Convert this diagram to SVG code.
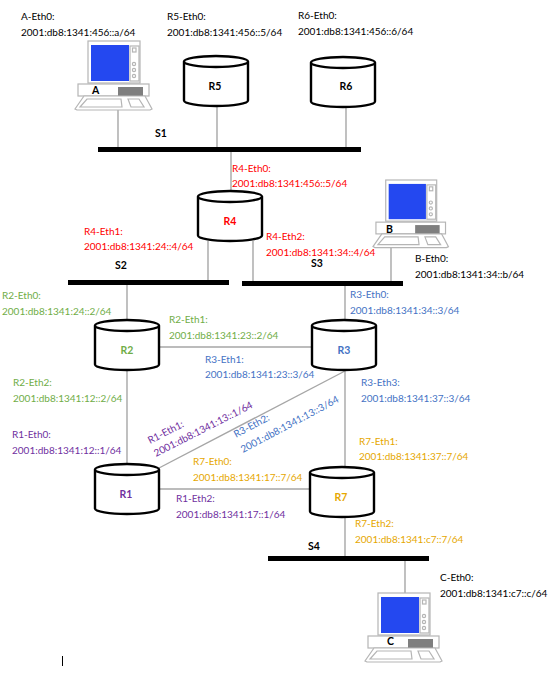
<svg xmlns="http://www.w3.org/2000/svg" xmlns:xlink="http://www.w3.org/1999/xlink" width="556" height="674" viewBox="0 0 556 674">
<style>
text{font-family:Lato,"Open Sans","Liberation Sans",sans-serif;font-size:10px}
.b{font-weight:700;font-size:10.5px}
.red{fill:#ff0000}.grn{fill:#70ad47}.blu{fill:#4472c4}.pur{fill:#7030a0}.yel{fill:#e6a700}.blk{fill:#000}
.c line{stroke:#a6a6a6;stroke-width:1.4}
.bus{fill:#000}
.cylb{fill:#fff;stroke:#000;stroke-width:2.4}
.pc{fill:#fff;stroke:#b5b5b5;stroke-width:1.2}
</style>
<defs>
<g id="cyl">
<path class="cylb" d="M0 5.5V44.5A32 5.5 0 0 0 64 44.5V5.5"/>
<ellipse class="cylb" cx="32" cy="5.5" rx="32" ry="5.5"/>
</g>
<g id="pc">
<rect class="pc" x="13" y="0" width="52" height="42"/>
<rect x="16" y="4" width="38" height="36" fill="#2448f0"/>
<rect class="pc" x="55" y="5" width="9" height="35" stroke-width=".7"/>
<rect class="pc" x="57.5" y="7" width="3.5" height="4" stroke-width=".7"/>
<circle class="pc" cx="59" cy="23" r="1.6" stroke-width=".7"/>
<circle class="pc" cx="59" cy="29" r="1.6" stroke-width=".7"/>
<circle class="pc" cx="59" cy="35" r="1.6" stroke-width=".7"/>
<rect class="pc" x="3" y="43" width="71" height="12"/>
<rect x="43" y="46" width="25" height="9" fill="#7f7f7f"/>
<path class="pc" d="M9 55H70L77 68L75 69H2L0 68Z"/>
<path class="pc" d="M12 58H46L47 66H5Z" stroke-width=".9"/>
<path class="pc" d="M53 58H64L69 66H56Z" stroke-width=".9"/>
</g>
</defs>
<g id="connectors" class="c">
<line x1="118" y1="110" x2="118" y2="148"/>
<line x1="217" y1="105" x2="217" y2="148"/>
<line x1="346" y1="106" x2="346" y2="148"/>
<line x1="231" y1="151" x2="231" y2="192"/>
<line x1="208" y1="241" x2="208" y2="281"/>
<line x1="253" y1="241" x2="253" y2="282"/>
<line x1="391" y1="247" x2="391" y2="282"/>
<line x1="127" y1="285" x2="127" y2="321"/>
<line x1="345" y1="286" x2="345" y2="321"/>
<line x1="160" y1="347" x2="312" y2="347"/>
<line x1="127" y1="370" x2="127" y2="464"/>
<line x1="345" y1="370" x2="345" y2="467"/>
<line x1="159" y1="468" x2="345" y2="371"/>
<line x1="159" y1="489" x2="310" y2="489"/>
<line x1="345" y1="517" x2="345" y2="557"/>
<line x1="405" y1="561" x2="405" y2="593"/>
</g>
<g id="S1"><rect class="bus" x="98" y="147" width="263" height="5"/><text class="b blk" x="155" y="137">S1</text></g>
<g id="S2"><rect class="bus" x="68" y="280" width="161" height="5"/><text class="b blk" x="115" y="269">S2</text></g>
<g id="S3"><rect class="bus" x="242" y="281" width="161" height="5"/><text class="b blk" x="311" y="267">S3</text></g>
<g id="S4"><rect class="bus" x="268" y="556" width="161" height="5"/><text class="b blk" x="308" y="550">S4</text></g>
<g id="A"><use xlink:href="#pc" href="#pc" x="75" y="41"/><text class="b blk" x="92" y="94">A</text>
<text class="blk" x="21" y="20">A-Eth0:</text><text class="blk" x="21" y="36">2001:db8:1341:456::a/64</text></g>
<g id="R5"><use href="#cyl" x="184" y="56"/><text class="b blk" x="215" y="90" text-anchor="middle">R5</text>
<text class="blk" x="167" y="20">R5-Eth0:</text><text class="blk" x="167" y="36">2001:db8:1341:456::5/64</text></g>
<g id="R6"><use href="#cyl" x="311" y="57"/><text class="b blk" x="346" y="90" text-anchor="middle">R6</text>
<text class="blk" x="298" y="19">R6-Eth0:</text><text class="blk" x="298" y="35">2001:db8:1341:456::6/64</text></g>
<g id="R4"><use href="#cyl" x="198" y="191"/><text class="b red" x="230" y="225" text-anchor="middle">R4</text>
<text class="red" x="232" y="172">R4-Eth0:</text><text class="red" x="232" y="187">2001:db8:1341:456::5/64</text>
<text class="red" x="84" y="235">R4-Eth1:</text><text class="red" x="84" y="250">2001:db8:1341:24::4/64</text>
<text class="red" x="266" y="240">R4-Eth2:</text><text class="red" x="266" y="256">2001:db8:1341:34::4/64</text></g>
<g id="B"><use href="#pc" transform="translate(373,180) scale(.98)"/><text class="b blk" x="386" y="233">B</text>
<text class="blk" x="415" y="262">B-Eth0:</text><text class="blk" x="415" y="278">2001:db8:1341:34::b/64</text></g>
<g id="R2"><use href="#cyl" x="95" y="320"/><text class="b grn" x="127" y="354" text-anchor="middle">R2</text>
<text class="grn" x="2" y="299">R2-Eth0:</text><text class="grn" x="2" y="315">2001:db8:1341:24::2/64</text>
<text class="grn" x="169" y="323">R2-Eth1:</text><text class="grn" x="169" y="339">2001:db8:1341:23::2/64</text>
<text class="grn" x="13" y="386">R2-Eth2:</text><text class="grn" x="13" y="402">2001:db8:1341:12::2/64</text></g>
<g id="R3"><use href="#cyl" x="312" y="320"/><text class="b blu" x="344" y="354" text-anchor="middle">R3</text>
<text class="blu" x="350" y="298">R3-Eth0:</text><text class="blu" x="350" y="314">2001:db8:1341:34::3/64</text>
<text class="blu" x="205" y="363">R3-Eth1:</text><text class="blu" x="205" y="378">2001:db8:1341:23::3/64</text>
<text class="blu" x="361" y="386">R3-Eth3:</text><text class="blu" x="361" y="402">2001:db8:1341:37::3/64</text>
<text class="blu" transform="translate(236,438) rotate(-28)">R3-Eth2:</text><text class="blu" transform="translate(243,453) rotate(-28)">2001:db8:1341:13::3/64</text></g>
<g id="R1"><use href="#cyl" x="95" y="464"/><text class="b pur" x="126" y="498" text-anchor="middle">R1</text>
<text class="pur" x="12" y="438">R1-Eth0:</text><text class="pur" x="12" y="454">2001:db8:1341:12::1/64</text>
<text class="pur" transform="translate(150,444) rotate(-27)">R1-Eth1:</text><text class="pur" transform="translate(156,457) rotate(-27)">2001:db8:1341:13::1/64</text>
<text class="pur" x="176" y="502">R1-Eth2:</text><text class="pur" x="176" y="518">2001:db8:1341:17::1/64</text></g>
<g id="R7"><use href="#cyl" x="310" y="467"/><text class="b yel" x="341" y="501" text-anchor="middle">R7</text>
<text class="yel" x="193" y="465">R7-Eth0:</text><text class="yel" x="193" y="481">2001:db8:1341:17::7/64</text>
<text class="yel" x="359" y="445">R7-Eth1:</text><text class="yel" x="359" y="460">2001:db8:1341:37::7/64</text>
<text class="yel" x="355" y="527">R7-Eth2:</text><text class="yel" x="355" y="543">2001:db8:1341:c7::7/64</text></g>
<g id="C"><use href="#pc" x="365" y="593"/><text class="b blk" x="387" y="645">C</text>
<text class="blk" x="440" y="581">C-Eth0:</text><text class="blk" x="440" y="597">2001:db8:1341:c7::c/64</text></g>
<line x1="62.500" y1="656" x2="62.500" y2="666" stroke="#000" stroke-width="1"/>
</svg>
